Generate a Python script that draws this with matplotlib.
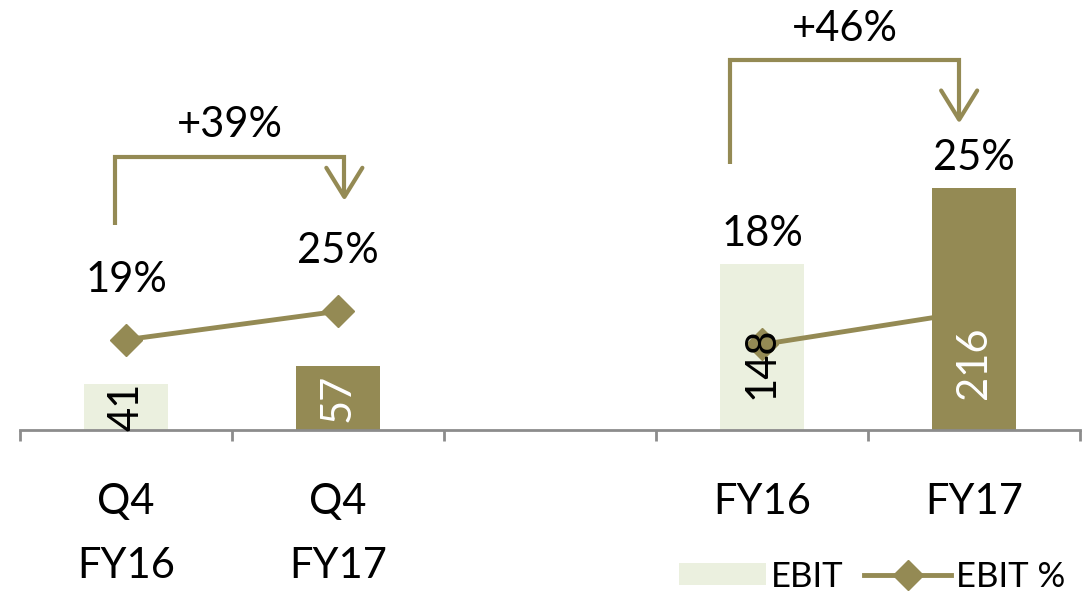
import numpy as np
import matplotlib
matplotlib.use("Agg")
import matplotlib.pyplot as plt
from matplotlib.patches import Patch
from matplotlib.lines import Line2D

plt.rcParams["font.family"] = ["Lato", "DejaVu Sans"]

categories = ["Q4\nFY16", "Q4\nFY17", "", "FY16", "FY17"]
ebit = [41, 57, None, 148, 216]
ebit_pct = [19, 25, None, 18, 25]
pct_labels = ["19%", "25%", "", "18%", "25%"]
growth = ["+39%", "+46%"]

OLIVE = "#948A54"
LIGHT = "#EBF0DF"
AXIS = "#8C8C8C"
FS = 30

fig = plt.figure(figsize=(10.88, 5.97), dpi=100)
ax = fig.add_axes([20 / 1088, 167 / 597, 1060 / 1088, 400 / 597])
ax2 = ax.twinx()

x = np.arange(len(categories))
bar_colors = [LIGHT, OLIVE, None, LIGHT, OLIVE]

for i, v in enumerate(ebit):
    if v is None:
        continue
    ax.bar(x[i], v, width=0.4, color=bar_colors[i], zorder=2)
    txt_color = "white" if bar_colors[i] == OLIVE else "black"
    # drawn on ax2 so the value sits over the EBIT % line
    ax2.text(x[i], min(v / 2, 60), str(v), rotation=90, ha="center", va="center",
             fontsize=FS, color=txt_color, zorder=5, transform=ax.transData)

pct = np.array([np.nan if p is None else p for p in ebit_pct], dtype=float)
ax2.plot(x, pct, color=OLIVE, lw=3.5, marker="D", markersize=16, zorder=3)

# percent labels: Q4 above the line points, FY above the bars
bar_px = 400 / 357.0
pct_px = 400 / 84.2
for i, lab in enumerate(pct_labels):
    if not lab:
        continue
    top_px = max(ebit[i] * bar_px, ebit_pct[i] * pct_px)
    gap = 30 if ebit[i] * bar_px > ebit_pct[i] * pct_px else 60
    ax.text(x[i], (top_px + gap) / bar_px, lab, ha="center", va="center",
            fontsize=FS, zorder=5)

ax.set_xlim(-0.5, 4.5)
ax.set_ylim(0, 357)
ax2.set_ylim(0, 84.2)


def bracket(x0, x1, y0, ytop, y1, label):
    ax.plot([x0, x0, x1, x1], [y0, ytop, ytop, y1], color=OLIVE, lw=3,
            solid_capstyle="butt", solid_joinstyle="miter", zorder=4, clip_on=False)
    ax.plot([x1 - 0.085, x1, x1 + 0.085], [y1 + 26, y1, y1 + 26], color=OLIVE, lw=3,
            solid_capstyle="round", zorder=4, clip_on=False)
    ax.text((x0 + x1) / 2, ytop + 28, label, ha="center", va="center", fontsize=FS,
            clip_on=False)


bracket(x[0] - 0.05, x[1] + 0.03, 183, 244, 208, growth[0])
bracket(x[3] - 0.15, x[4] - 0.07, 237, 330, 277, growth[1])

for a in (ax, ax2):
    for s in ("top", "right", "left"):
        a.spines[s].set_visible(False)
ax2.spines["bottom"].set_visible(False)
ax.spines["bottom"].set_color(AXIS)
ax.spines["bottom"].set_linewidth(2)
ax.set_yticks([])
ax2.set_yticks([])

ax.set_xticks(x)
ax.set_xticklabels(categories, fontsize=FS, linespacing=1.85)
ax.tick_params(axis="x", which="major", length=0, pad=38)
ax.set_xticks(np.arange(-0.5, 5, 1), minor=True)
ax.tick_params(axis="x", which="minor", length=8, width=2, color=AXIS)

handles = [Patch(facecolor=LIGHT, edgecolor="none", label="EBIT"),
           Line2D([0], [0], color=OLIVE, lw=3.5, marker="D", markersize=15, label="EBIT %")]
fig.legend(handles=handles, loc="lower right", bbox_to_anchor=(1.008, -0.045), ncol=2,
           frameon=False, fontsize=25, handlelength=2.5, handleheight=0.6,
           handletextpad=0.15, columnspacing=0.6)

fig.savefig("out.png", dpi=100)
